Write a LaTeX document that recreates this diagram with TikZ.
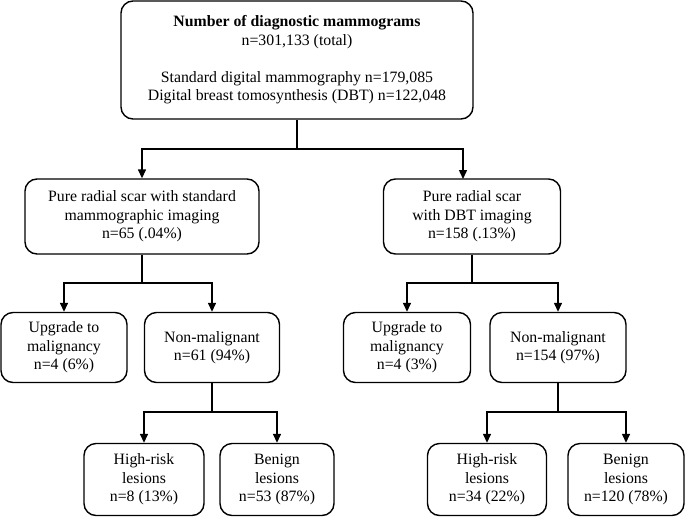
\documentclass[tikz,border=0pt]{standalone}
\usepackage{fontspec}
\setmainfont{Liberation Serif}
\usetikzlibrary{arrows.meta,calc}
\begin{document}
\begin{tikzpicture}[x=1pt,y=-1pt,
  box/.style={draw,line width=1.4pt,rounded corners=12pt,align=center,inner sep=0pt,
    font=\fontsize{15.8}{18.5}\selectfont},
  arr/.style={line width=1.4pt,-{Triangle[length=9pt,width=8pt]}},
  ln/.style={line width=1.4pt}]
\useasboundingbox (0,0) rectangle (685,517);
\node[box,minimum width=352pt,minimum height=118pt] (top) at (297,60)
  {\textbf{Number of diagnostic mammograms}\\ n=301,133 (total)\\[18.5pt]
   Standard digital mammography n=179,085\\ Digital breast tomosynthesis (DBT) n=122,048};
\node[box,minimum width=234pt,minimum height=75pt] (L) at (142,216.5)
  {Pure radial scar with standard\\ mammographic imaging\\ n=65 (.04\%)};
\node[box,minimum width=177pt,minimum height=75pt] (R) at (472,216.5)
  {Pure radial scar\\ with DBT imaging\\ n=158 (.13\%)};
\node[box,minimum width=126pt,minimum height=70pt] (LU) at (64,347.5)
  {Upgrade to\\ malignancy\\ n=4 (6\%)};
\node[box,minimum width=135pt,minimum height=70pt] (LN) at (212,347.5)
  {Non-malignant\\ n=61 (94\%)};
\node[box,minimum width=127pt,minimum height=70pt] (RU) at (407,347.5)
  {Upgrade to\\ malignancy\\ n=4 (3\%)};
\node[box,minimum width=136pt,minimum height=70pt] (RN) at (558,347.5)
  {Non-malignant\\ n=154 (97\%)};
\node[box,minimum width=120pt,minimum height=72pt] (LH) at (144,479.5)
  {High-risk\\ lesions\\ n=8 (13\%)};
\node[box,minimum width=114pt,minimum height=72pt] (LB) at (277,479.5)
  {Benign\\ lesions\\ n=53 (87\%)};
\node[box,minimum width=119pt,minimum height=72pt] (RH) at (487,479.5)
  {High-risk\\ lesions\\ n=34 (22\%)};
\node[box,minimum width=116pt,minimum height=72pt] (RB) at (626,479.5)
  {Benign\\ lesions\\ n=120 (78\%)};
% connectors
\coordinate (j0) at (297,149);
\coordinate (rin) at (463,179);
\draw[ln] (top.south) -- (j0);
\draw[arr] (j0) -| (L.north);
\draw[arr] (j0) -| (rin);
\coordinate (j1) at (142,283);
\draw[ln] (L.south) -- (j1);
\draw[arr] (j1) -| (LU.north);
\draw[arr] (j1) -| (LN.north);
\coordinate (j2) at (472,283);
\draw[ln] (R.south) -- (j2);
\draw[arr] (j2) -| (RU.north);
\draw[arr] (j2) -| (RN.north);
\coordinate (j3) at (212,412);
\draw[ln] (LN.south) -- (j3);
\draw[arr] (j3) -| (LH.north);
\draw[arr] (j3) -| (LB.north);
\coordinate (j4) at (558,412);
\draw[ln] (RN.south) -- (j4);
\draw[arr] (j4) -| (RH.north);
\draw[arr] (j4) -| (RB.north);
\end{tikzpicture}
\end{document}
